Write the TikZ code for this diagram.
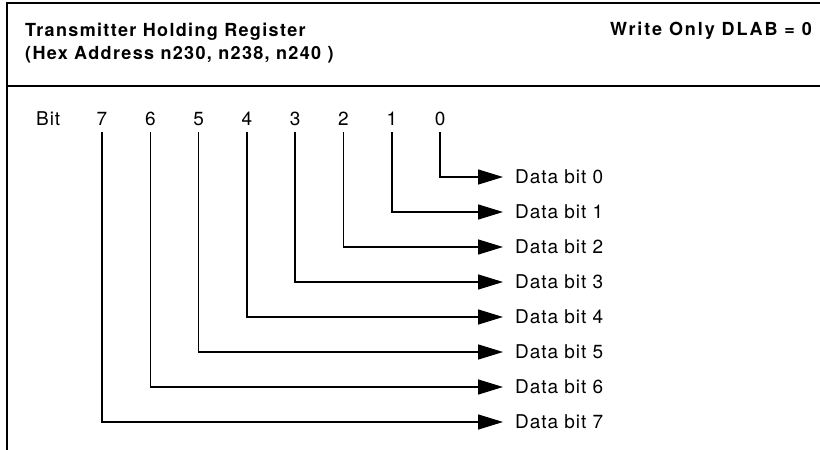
\documentclass[tikz,border=0pt]{standalone}
\usepackage{fontspec}
\setmainfont[LetterSpace=7.5]{TeX Gyre Heros}
\newfontfamily\widefont[LetterSpace=10.5]{TeX Gyre Heros}
\newfontfamily\labelfont[LetterSpace=5]{TeX Gyre Heros}
\usetikzlibrary{arrows.meta, positioning}

\begin{document}
\begin{tikzpicture}[x=1pt,y=-1pt,
  head/.style={font=\bfseries\fontsize{18}{22}\selectfont, inner sep=0pt},
  bitnum/.style={font=\labelfont\fontsize{19}{22}\selectfont, anchor=base, inner xsep=0pt, inner ysep=7pt},
  datalabel/.style={font=\labelfont\fontsize{19}{22}\selectfont, anchor=west, inner xsep=12pt, inner ysep=0pt},
  bitline/.style={line width=1.5pt, -{Triangle[length=25pt,width=15pt]}}]
  \useasboundingbox (0,0) rectangle (820,450);
  \def \xa{503}
  \def \yt{125}

  % frame of the register box
  \draw[line width=1.5pt] (820,3) -- (7,3) -- (7,450);
  \draw[line width=1.5pt] (7,86) -- (820,86);

  \node[head, anchor=base west] (title) at (25,36) {Transmitter Holding Register};
  \node[head, anchor=base west] (addr) at (25,59) {(Hex Address n230, n238, n240 )};
  \node[head, font=\widefont\bfseries\fontsize{18}{22}\selectfont, anchor=base east] (mode) at (812,35) {Write Only DLAB = 0};

  \node[bitnum, anchor=base west] (bit) at (36,\yt) {Bit};
  \node[bitnum] (b7) at (102,\yt) {7};
  \node[bitnum] (b6) at (150.3,\yt) {6};
  \node[bitnum] (b5) at (198.6,\yt) {5};
  \node[bitnum] (b4) at (246.9,\yt) {4};
  \node[bitnum] (b3) at (295.2,\yt) {3};
  \node[bitnum] (b2) at (343.5,\yt) {2};
  \node[bitnum] (b1) at (391.8,\yt) {1};
  \node[bitnum] (b0) at (440.1,\yt) {0};

  \node[datalabel] (d0) at (\xa,177) {Data bit 0};
  \node[datalabel] (d1) at (\xa,212) {Data bit 1};
  \node[datalabel] (d2) at (\xa,247) {Data bit 2};
  \node[datalabel] (d3) at (\xa,282) {Data bit 3};
  \node[datalabel] (d4) at (\xa,317) {Data bit 4};
  \node[datalabel] (d5) at (\xa,352) {Data bit 5};
  \node[datalabel] (d6) at (\xa,387) {Data bit 6};
  \node[datalabel] (d7) at (\xa,422) {Data bit 7};

  \draw[bitline] (b0.south) |- (d0.west);
  \draw[bitline] (b1.south) |- (d1.west);
  \draw[bitline] (b2.south) |- (d2.west);
  \draw[bitline] (b3.south) |- (d3.west);
  \draw[bitline] (b4.south) |- (d4.west);
  \draw[bitline] (b5.south) |- (d5.west);
  \draw[bitline] (b6.south) |- (d6.west);
  \draw[bitline] (b7.south) |- (d7.west);
\end{tikzpicture}
\end{document}
